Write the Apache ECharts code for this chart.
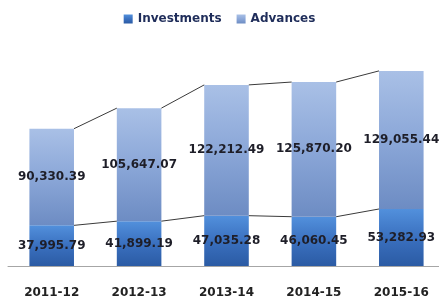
<!DOCTYPE html>
<html><head><meta charset="utf-8">
<script src="https://cdn.jsdelivr.net/npm/echarts@6/dist/echarts.min.js"></script>
<style>html,body{margin:0;padding:0;background:#fff}#c{width:439px;height:297px}</style>
</head><body><div id="c"></div>
<script>
const categories = ['2011-12','2012-13','2013-14','2014-15','2015-16'];
const investments = [37995.79, 41899.19, 47035.28, 46060.45, 53282.93];
const advances = [90330.39, 105647.07, 122212.49, 125870.20, 129055.44];
const totals = investments.map((v,i)=>v+advances[i]);
const linkData = [];
for (let i=0;i<categories.length-1;i++) linkData.push([i, investments[i], investments[i+1], totals[i], totals[i+1]]);

const fmt = v => v.toLocaleString('en-US',{minimumFractionDigits:2,maximumFractionDigits:2});
const font = 'DejaVu Sans';
const chart = echarts.init(document.getElementById('c'));
const grad = (a,b,c)=>new echarts.graphic.LinearGradient(0,0,0,1,[{offset:0,color:a},{offset:0.5,color:b},{offset:1,color:c}]);
const BW = 0.51;
chart.setOption({
  animation:false,
  legend:{top:8,left:'center',icon:'rect',itemWidth:9,itemHeight:9,itemGap:15,
    textStyle:{fontFamily:font,fontWeight:'bold',fontSize:12,color:'#1f2d5a'},
    data:['Investments','Advances']},
  grid:{left:8,width:437,top:52,bottom:31,outerBoundsMode:'none',containLabel:false},
  xAxis:{type:'category',data:categories,
    axisLine:{lineStyle:{color:'#a6a6a6',width:1}},axisTick:{show:false},
    axisLabel:{margin:21,fontFamily:font,fontWeight:'bold',fontSize:12,color:'#222'}},
  yAxis:{type:'value',min:0,max:200000,show:false,splitLine:{show:false}},
  series:[
    {name:'Investments',type:'bar',stack:'a',barWidth:(BW*100)+'%',data:investments,
     itemStyle:{color:grad('#5290dc','#3a70bf','#2b5ba4')},
     label:{show:true,position:'inside',formatter:p=>fmt(p.value),fontFamily:font,fontWeight:'bold',fontSize:12,color:'#1e1e28'}},
    {name:'Advances',type:'bar',stack:'a',barWidth:(BW*100)+'%',data:advances,
     itemStyle:{color:grad('#a9c0e6','#8ba7d8','#6d8cc3')},
     label:{show:true,position:'inside',formatter:p=>fmt(p.value),fontFamily:font,fontWeight:'bold',fontSize:12,color:'#1e1e28'}},
    {type:'custom',data:linkData,encode:{x:0,y:[1,2,3,4]},z:5,silent:true,
     renderItem:(params,api)=>{
       const i = api.value(0);
       const band = api.size([1,0])[0];
       const hw = band*BW/2;
       const a1 = api.coord([i, api.value(1)]), a2 = api.coord([i+1, api.value(2)]);
       const b1 = api.coord([i, api.value(3)]), b2 = api.coord([i+1, api.value(4)]);
       const st = {stroke:'#3a3a3a',lineWidth:1,fill:null};
       return {type:'group',children:[
         {type:'line',shape:{x1:a1[0]+hw,y1:a1[1],x2:a2[0]-hw,y2:a2[1]},style:st},
         {type:'line',shape:{x1:b1[0]+hw,y1:b1[1],x2:b2[0]-hw,y2:b2[1]},style:st}
       ]};
     }}
  ]
});
</script></body></html>
